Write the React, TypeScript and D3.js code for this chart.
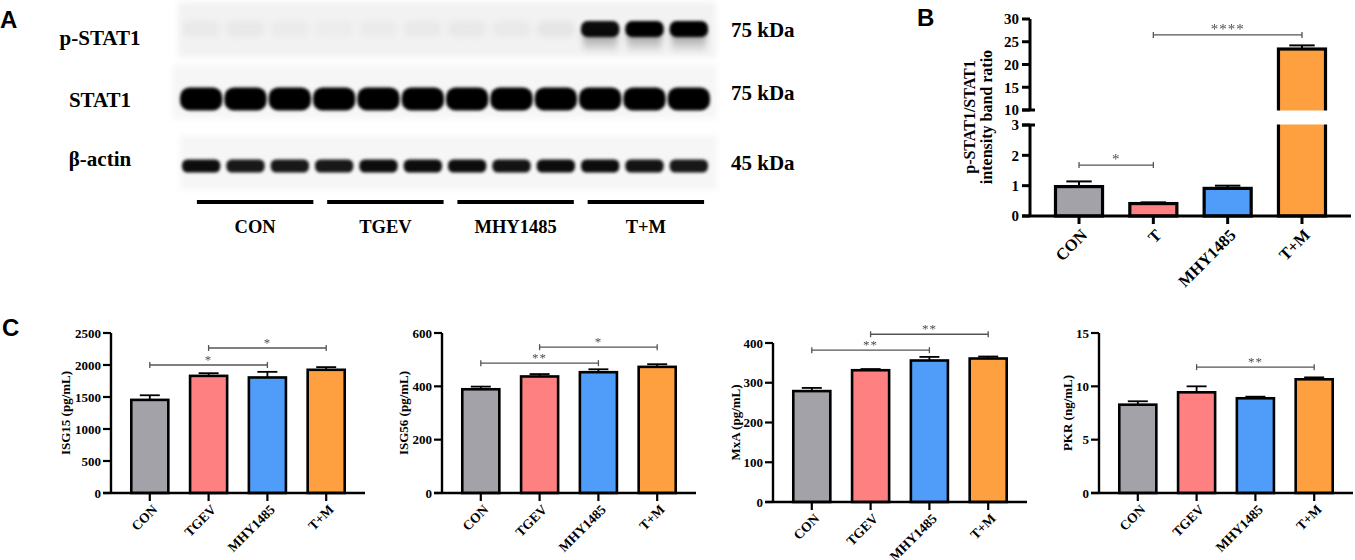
import React from 'react';
import * as d3 from 'd3';

// ---- Panel A: western blot, relative band intensity per lane (0..1) ----
const blotGroups = ['CON', 'TGEV', 'MHY1485', 'T+M'];
const lanes = d3.range(12);
const pStat1Bands = [0.06, 0.07, 0.05, 0.04, 0.05, 0.06, 0.07, 0.06, 0.09, 0.95, 1, 1];
const stat1Bands = [1, 1, 1, 1, 1, 1, 1, 1, 1, 1, 1, 1];
const actinBands = [0.95, 0.9, 0.9, 0.9, 0.95, 0.95, 0.95, 0.92, 0.95, 0.95, 0.92, 0.9];
const blotRows = ['p-STAT1', 'STAT1', 'β-actin'];
const blotSizes = ['75 kDa', '75 kDa', '45 kDa'];

// ---- Panel B ----
const ratioCats = ['CON', 'T', 'MHY1485', 'T+M'];
const ratioMean = [0.97, 0.41, 0.91, 23.4];
const ratioSem = [0.17, 0.04, 0.09, 0.8];
const ratioLowTicks = [0, 1, 2, 3];
const ratioHighTicks = [10, 15, 20, 25, 30];

// ---- Panel C ----
const elisaCats = ['CON', 'TGEV', 'MHY1485', 'T+M'];
const isg15Mean = [1455, 1830, 1805, 1925];
const isg15Sem = [72, 42, 88, 42];
const isg15Ticks = [0, 500, 1000, 1500, 2000, 2500];
const isg56Mean = [389, 437, 453, 473];
const isg56Sem = [10, 9, 11, 10];
const isg56Ticks = [0, 200, 400, 600];
const mxaMean = [279, 331.5, 356, 361];
const mxaSem = [8, 3, 9, 5];
const mxaTicks = [0, 100, 200, 300, 400];
const pkrMean = [8.28, 9.44, 8.88, 10.66];
const pkrSem = [0.32, 0.56, 0.15, 0.18];
const pkrTicks = [0, 5, 10, 15];

const colors = ['#a3a2a8', '#ff8080', '#4f9cf9', '#ffa040'];

const serif = '"Liberation Serif", "Times New Roman", serif';
const sans = '"Liberation Sans", Arial, sans-serif';

type Bracket = { a: number; b: number; y: number; text: string };

function Bracket({ x1, x2, y, text, size }: { x1: number; x2: number; y: number; text: string; size: number }) {
  return (
    <g stroke="#555" strokeWidth={1.3}>
      <line x1={x1} x2={x2} y1={y} y2={y} />
      <line x1={x1} x2={x1} y1={y - 3} y2={y + 3} />
      <line x1={x2} x2={x2} y1={y - 3} y2={y + 3} />
      <text x={(x1 + x2) / 2} y={y - 1} textAnchor="middle" fill="#4a4a4a" stroke="none" opacity={0.99}
        fontFamily={serif} fontSize={size} letterSpacing={1}>{text}</text>
    </g>
  );
}

function ElisaChart(props: {
  left: number; top: number; bottom: number; width: number;
  ticks: number[]; mean: number[]; sem: number[]; label: string; labelOffset: number;
  brackets: Bracket[];
}) {
  const { left, top, bottom, width, ticks, mean, sem, label, labelOffset, brackets } = props;
  const x = d3.scaleBand<string>().domain(elisaCats).range([left, left + width])
    .paddingInner(0.37).paddingOuter(0.345);
  const y = d3.scaleLinear().domain([0, ticks[ticks.length - 1]]).range([bottom, top]);
  const bw = x.bandwidth();
  const cx = (c: string) => (x(c) as number) + bw / 2;
  return (
    <g>
      {elisaCats.map((c, i) => (
        <g key={c}>
          <line x1={cx(c)} x2={cx(c)} y1={y(mean[i])} y2={y(mean[i] + sem[i])} stroke="#000" strokeWidth={1.8} />
          <line x1={cx(c) - bw * 0.27} x2={cx(c) + bw * 0.27} y1={y(mean[i] + sem[i])} y2={y(mean[i] + sem[i])} stroke="#000" strokeWidth={1.8} />
          <rect x={x(c)} y={y(mean[i])} width={bw} height={y(0) - y(mean[i])}
            fill={colors[i]} stroke="#000" strokeWidth={2.6} />
        </g>
      ))}
      <line x1={left} x2={left} y1={top} y2={bottom} stroke="#000" strokeWidth={2.4} />
      <line x1={left - 8} x2={left + width} y1={bottom} y2={bottom} stroke="#000" strokeWidth={2.4} />
      {ticks.map(t => (
        <g key={t}>
          <line x1={left - 8} x2={left} y1={y(t)} y2={y(t)} stroke="#000" strokeWidth={2.2} />
          <text x={left - 10} y={y(t)} dy="0.35em" textAnchor="end" fontFamily={serif}
            fontWeight="bold" fontSize={13}>{t}</text>
        </g>
      ))}
      {elisaCats.map(c => (
        <g key={c}>
          <line x1={cx(c)} x2={cx(c)} y1={bottom} y2={bottom + 8} stroke="#000" strokeWidth={2.2} />
          <text transform={`translate(${cx(c) + 5},${bottom + 14}) rotate(-45)`} textAnchor="end"
            dy="0.35em" fontFamily={serif} fontWeight="bold" fontSize={13.5}>{c}</text>
        </g>
      ))}
      <text transform={`translate(${left - labelOffset},${(top + bottom) / 2}) rotate(-90)`}
        textAnchor="middle" dy="0.35em" fontFamily={serif} fontWeight="bold" fontSize={13}>{label}</text>
      {brackets.map((b, i) => (
        <Bracket key={i} x1={cx(elisaCats[b.a])} x2={cx(elisaCats[b.b])} y={y(b.y)} text={b.text} size={13} />
      ))}
    </g>
  );
}

function RatioChart() {
  const left = 1030;
  const width = 321;
  const x = d3.scaleBand<string>().domain(ratioCats).range([left, left + width])
    .paddingInner(0.367).paddingOuter(0.343);
  const yLow = d3.scaleLinear().domain([0, 3]).range([216, 125]);
  const yHigh = d3.scaleLinear().domain([10, 30]).range([110, 19]);
  const y = (v: number) => (v <= 3 ? yLow(v) : yHigh(Math.max(v, 10)));
  const bw = x.bandwidth();
  const cx = (c: string) => (x(c) as number) + bw / 2;
  return (
    <g>
      {ratioCats.map((c, i) => (
        <g key={c}>
          <line x1={cx(c)} x2={cx(c)} y1={y(ratioMean[i])} y2={y(ratioMean[i] + ratioSem[i])} stroke="#000" strokeWidth={2} />
          <line x1={cx(c) - bw * 0.27} x2={cx(c) + bw * 0.27} y1={y(ratioMean[i] + ratioSem[i])} y2={y(ratioMean[i] + ratioSem[i])} stroke="#000" strokeWidth={2} />
          <rect x={x(c)} y={y(ratioMean[i])} width={bw} height={y(0) - y(ratioMean[i])}
            fill={colors[i]} stroke="#000" strokeWidth={3.2} />
        </g>
      ))}
      {/* axis break gap */}
      <rect x={left - 14} y={yHigh(10) + 0.5} width={width + 20} height={yLow(3) - yHigh(10) - 1} fill="#fff" />
      <line x1={left} x2={left} y1={yHigh(30)} y2={yHigh(10)} stroke="#000" strokeWidth={3} />
      <line x1={left} x2={left} y1={yLow(3)} y2={yLow(0)} stroke="#000" strokeWidth={3} />
      <line x1={left - 8} x2={left + width} y1={yLow(0)} y2={yLow(0)} stroke="#000" strokeWidth={3} />
      <line x1={left - 8} x2={left + 5} y1={yHigh(10)} y2={yHigh(10)} stroke="#000" strokeWidth={3} />
      <line x1={left - 8} x2={left + 5} y1={yLow(3)} y2={yLow(3)} stroke="#000" strokeWidth={3} />
      {[...ratioLowTicks.map(t => [t, yLow(t)]), ...ratioHighTicks.map(t => [t, yHigh(t)])].map(([t, py]) => (
        <g key={`${t}`}>
          <line x1={left - 8} x2={left} y1={py} y2={py} stroke="#000" strokeWidth={3} />
          <text x={left - 11} y={py} dy="0.35em" textAnchor="end" fontFamily={serif}
            fontWeight="bold" fontSize={15}>{t}</text>
        </g>
      ))}
      {ratioCats.map(c => (
        <g key={c}>
          <line x1={cx(c)} x2={cx(c)} y1={216} y2={224} stroke="#000" strokeWidth={3} />
          <text transform={`translate(${cx(c) + 5},${232}) rotate(-45)`} textAnchor="end"
            dy="0.35em" fontFamily={serif} fontWeight="bold" fontSize={16.5}>{c}</text>
        </g>
      ))}
      <text transform={`translate(969,117) rotate(-90)`} textAnchor="middle" dy="0.35em"
        fontFamily={serif} fontWeight="bold" fontSize={16}>p-STAT1/STAT1</text>
      <text transform={`translate(986,117) rotate(-90)`} textAnchor="middle" dy="0.35em"
        fontFamily={serif} fontWeight="bold" fontSize={16}>intensity band ratio</text>
      <Bracket x1={cx('CON')} x2={cx('T')} y={yLow(1.68)} text="*" size={15} />
      <Bracket x1={cx('T')} x2={cx('T+M')} y={yHigh(26.5)} text="****" size={15} />
    </g>
  );
}

function Blot() {
  const lane = d3.scaleBand<number>().domain(lanes).range([179, 711]);
  const group = d3.scaleBand<string>().domain(blotGroups).range([190, 711])
    .paddingInner(0.106).paddingOuter(0.053);
  const rowY = [29, 99, 166];
  const rowH = [16, 23, 13];
  const boxes = [[178, 2, 538, 55], [172, 65, 545, 54], [180, 136, 537, 54]];
  const rows = [pStat1Bands, stat1Bands, actinBands];
  const cw = lane.bandwidth();
  return (
    <g>
      <defs>
        <filter id="soft" x="-20%" y="-60%" width="140%" height="220%">
          <feGaussianBlur stdDeviation="1.6" />
        </filter>
        <filter id="haze" x="-20%" y="-80%" width="140%" height="260%">
          <feGaussianBlur stdDeviation="3" />
        </filter>
        <linearGradient id="smear" x1="0" y1="0" x2="0" y2="1">
          <stop offset="0" stopColor="#000" stopOpacity={0.45} />
          <stop offset="1" stopColor="#000" stopOpacity={0} />
        </linearGradient>
      </defs>
      {boxes.map((b, i) => (
        <rect key={i} x={b[0]} y={b[1]} width={b[2]} height={b[3]} fill={i === 0 ? '#f2f2f2' : '#f6f6f6'} filter="url(#haze)" />
      ))}
      {rows.map((r, ri) => (
        <g key={ri}>
          {r.map((v, li) => (
            <g key={li}>
              {ri === 0 && v > 0.5 && (
                <rect x={(lane(li) as number) + 5} y={rowY[ri]} width={cw - 10} height={rowH[ri] + 8}
                  fill="url(#smear)" filter="url(#haze)" />
              )}
              <rect x={(lane(li) as number) + (ri === 1 ? 1 : 3)} y={rowY[ri] - rowH[ri] / 2}
                width={cw - (ri === 1 ? 2 : 6)} height={rowH[ri]} rx={rowH[ri] / 2.4}
                fill={ri === 0 && v < 0.5 ? '#888' : '#000'} opacity={ri === 0 && v < 0.5 ? v * 1.3 : v}
                filter={ri === 0 && v < 0.5 ? 'url(#haze)' : 'url(#soft)'} />
            </g>
          ))}
        </g>
      ))}
      {blotRows.map((t, i) => (
        <text key={t} x={100} y={[45, 107, 166][i]} textAnchor="middle" fontFamily={serif}
          fontWeight="bold" fontSize={21}>{t}</text>
      ))}
      {blotSizes.map((t, i) => (
        <text key={i} x={731} y={[37, 100, 170][i]} fontFamily={serif} fontWeight="bold" fontSize={21}>{t}</text>
      ))}
      {blotGroups.map(g => (
        <g key={g}>
          <line x1={group(g)} x2={(group(g) as number) + group.bandwidth()} y1={202} y2={202}
            stroke="#000" strokeWidth={4} />
          <text x={(group(g) as number) + group.bandwidth() / 2} y={233} textAnchor="middle"
            fontFamily={serif} fontWeight="bold" fontSize={18.5}>{g}</text>
        </g>
      ))}
    </g>
  );
}

export default function App() {
  return (
    <svg width={1355} height={560} style={{ position: 'absolute', left: 0, top: 0, background: '#fff' }}>
      <rect width={1355} height={560} fill="#fff" />
      <Blot />
      <RatioChart />
      <text x={0} y={28} fontFamily={sans} fontWeight="bold" fontSize={24}>A</text>
      <text x={917} y={26} fontFamily={sans} fontWeight="bold" fontSize={24}>B</text>
      <text x={2} y={336} fontFamily={sans} fontWeight="bold" fontSize={24}>C</text>
      <ElisaChart left={111} top={333} bottom={493} width={254} ticks={isg15Ticks}
        mean={isg15Mean} sem={isg15Sem} label="ISG15 (pg/mL)" labelOffset={46}
        brackets={[{ a: 0, b: 2, y: 2000, text: '*' }, { a: 1, b: 3, y: 2266, text: '*' }]} />
      <ElisaChart left={442} top={333} bottom={493} width={254} ticks={isg56Ticks}
        mean={isg56Mean} sem={isg56Sem} label="ISG56 (pg/mL)" labelOffset={39}
        brackets={[{ a: 0, b: 2, y: 487, text: '**' }, { a: 1, b: 3, y: 547, text: '*' }]} />
      <ElisaChart left={773} top={343} bottom={502} width={254} ticks={mxaTicks}
        mean={mxaMean} sem={mxaSem} label="MxA (pg/mL)" labelOffset={38}
        brackets={[{ a: 0, b: 2, y: 382, text: '**' }, { a: 1, b: 3, y: 422, text: '**' }]} />
      <ElisaChart left={1099} top={333} bottom={493} width={254} ticks={pkrTicks}
        mean={pkrMean} sem={pkrSem} label="PKR (ng/mL)" labelOffset={32}
        brackets={[{ a: 1, b: 3, y: 11.8, text: '**' }]} />
    </svg>
  );
}
